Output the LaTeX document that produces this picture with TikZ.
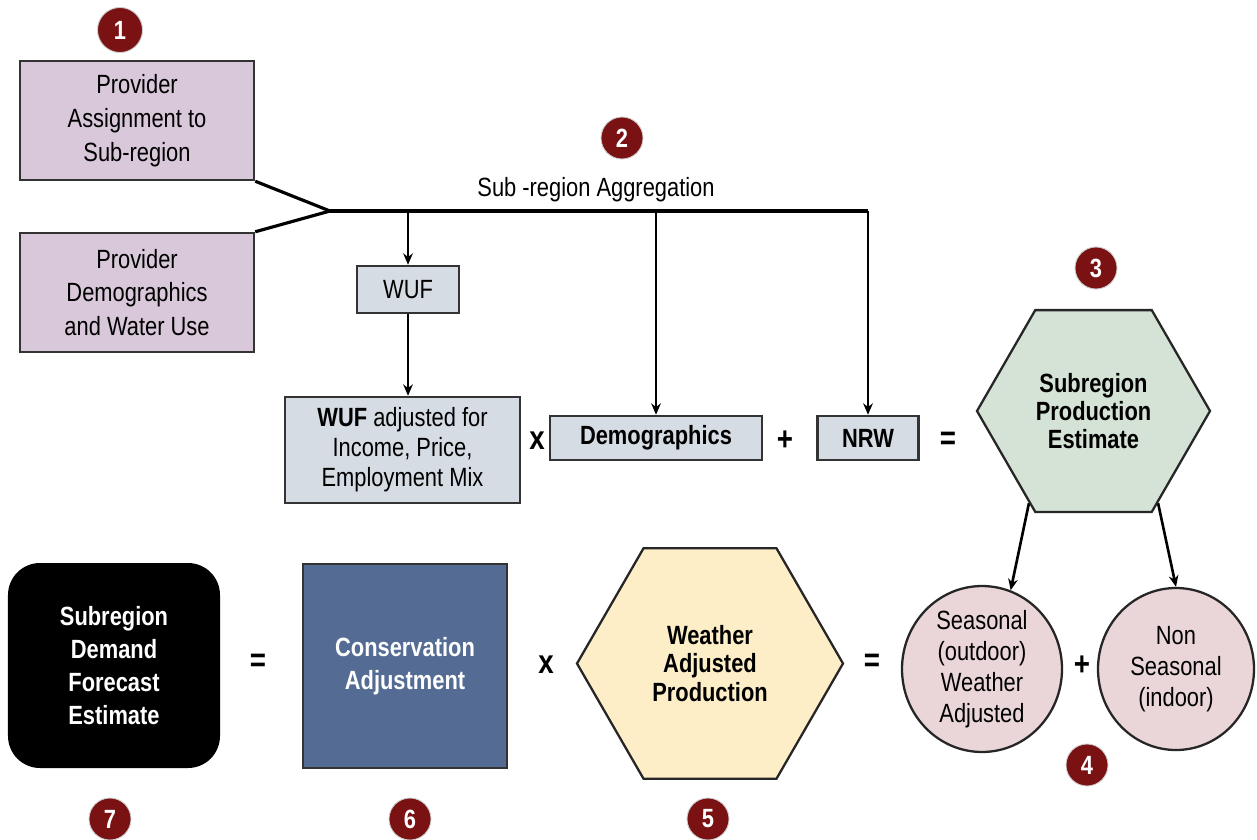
\documentclass[tikz,border=0pt]{standalone}
\usepackage{fontspec}
\setmainfont{Liberation Sans}[FakeStretch=0.83]
\usetikzlibrary{shapes.geometric,arrows.meta}
\pgfdeclarelayer{bg}
\pgfsetlayers{bg,main}
\definecolor{badgered}{RGB}{122,18,20}
\definecolor{lilac}{RGB}{216,200,218}
\definecolor{slate}{RGB}{214,220,228}
\definecolor{sage}{RGB}{212,227,214}
\definecolor{cream}{RGB}{253,238,200}
\definecolor{blush}{RGB}{234,214,216}
\definecolor{steel}{RGB}{84,108,148}
\tikzset{
  badge/.style={circle, fill=badgered, draw=black!20, line width=0.5pt, text=white,
    font=\bfseries\fontsize{15}{15}\selectfont, minimum size=0.84cm, inner sep=0pt},
  inbox/.style={draw=black!80, line width=1.4pt, fill=lilac, align=center,
    minimum width=4.68cm, minimum height=2.38cm, font=\fontsize{15}{19.3}\selectfont},
  calcbox/.style={draw=black!80, line width=1.4pt, fill=slate, align=center, inner sep=0pt,
    font=\fontsize{15}{17.1}\selectfont},
  hexa/.style={regular polygon, regular polygon sides=6, draw=black!85, line width=1.3pt,
    align=center, inner sep=0pt, font=\bfseries\fontsize{15}{16}\selectfont},
  part/.style={ellipse, draw=black!85, line width=1.3pt, fill=blush, align=center,
    inner sep=0pt, minimum width=3.2cm, minimum height=3.24cm, font=\fontsize{15}{17.6}\selectfont},
  op/.style={font=\bfseries\fontsize{19}{19}\selectfont, inner sep=0pt},
  wire/.style={line width=1.8pt},
  arr/.style={line width=1.5pt, -{Stealth[length=6.5pt,width=5.5pt]}}
}

\begin{document}
\begin{tikzpicture}
        \useasboundingbox (0cm, 0cm) rectangle (25.140000cm, -16.800000cm);
        % inputs and aggregation
        \node (assign) [inbox] at (2.740000cm, -2.410000cm) {Provider\\Assignment to\\Sub-region};
        \node (provdem) [inbox] at (2.740000cm, -5.850000cm) {Provider\\Demographics\\and Water Use};
        \coordinate (join) at (6.600000cm, -4.220000cm);
        \coordinate (k1) at (8.160000cm, -4.220000cm);
        \coordinate (k2) at (13.120000cm, -4.220000cm);
        \coordinate (k3) at (17.360000cm, -4.220000cm);
        \node (agg) at (11.920000cm, -3.800000cm) {\fontsize{15}{16}\selectfont Sub -region Aggregation};
        % production estimate
        \node (wuf) [calcbox, minimum width=2.04cm, minimum height=0.94cm] at (8.160000cm, -5.790000cm) {WUF};
        \node (wufadj) [calcbox, minimum width=4.70cm, minimum height=2.12cm] at (8.050000cm, -9.000000cm) {\textbf{WUF} adjusted for\\Income, Price,\\Employment Mix};
        \node (times1) [op] at (10.740000cm, -8.820000cm) {x};
        \node (demog) [calcbox, minimum width=4.24cm, minimum height=0.88cm, font=\bfseries\fontsize{15}{16}\selectfont] at (13.120000cm, -8.760000cm) {Demographics};
        \node (plus1) [op] at (15.700000cm, -8.820000cm) {+};
        \node (nrw) [calcbox, minimum width=2.02cm, minimum height=0.88cm, font=\bfseries\fontsize{15}{16}\selectfont] at (17.360000cm, -8.760000cm) {NRW};
        \node (eq1) [op] at (18.960000cm, -8.820000cm) {=};
        \node (prod) [hexa, fill=sage, minimum size=4.66cm] at (21.870000cm, -8.220000cm) {Subregion\\Production\\Estimate};
        % seasonal split
        \node (seas) [part] at (19.640000cm, -13.380000cm) {Seasonal\\(outdoor)\\Weather\\Adjusted};
        \node (plus2) [op] at (21.640000cm, -13.320000cm) {+};
        \node (nonseas) [part, minimum width=3.12cm] at (23.520000cm, -13.380000cm) {Non\\Seasonal\\(indoor)};
        % demand forecast
        \node (demand) [rounded corners=0.64cm, fill=black, text=white, align=center, minimum width=4.24cm, minimum height=4.10cm, font=\bfseries\fontsize{15}{18.8}\selectfont] at (2.280000cm, -13.310000cm) {Subregion\\Demand\\Forecast\\Estimate};
        \node (eq2) [op] at (5.160000cm, -13.260000cm) {=};
        \node (cons) [draw=black!80, line width=1.3pt, fill=steel, text=white, align=center, minimum width=4.08cm, minimum height=4.08cm, font=\bfseries\fontsize{15}{18.8}\selectfont] at (8.100000cm, -13.320000cm) {Conservation\\Adjustment};
        \node (times2) [op] at (10.920000cm, -13.300000cm) {x};
        \node (weather) [hexa, fill=cream, minimum size=5.32cm] at (14.200000cm, -13.270000cm) {Weather\\Adjusted\\Production};
        \node (eq3) [op] at (17.440000cm, -13.260000cm) {=};
        % step numbers
        \node (b1) [badge, minimum size=0.9cm] at (2.400000cm, -0.600000cm) {1};
        \node (b2) [badge] at (12.440000cm, -2.760000cm) {2};
        \node (b3) [badge] at (21.920000cm, -5.360000cm) {3};
        \node (b4) [badge] at (21.740000cm, -15.300000cm) {4};
        \node (b5) [badge] at (14.160000cm, -16.380000cm) {5};
        \node (b6) [badge] at (8.200000cm, -16.380000cm) {6};
        \node (b7) [badge] at (2.200000cm, -16.380000cm) {7};
        \begin{pgfonlayer}{bg}
                \draw (assign.south east) edge [wire] (join);
                \draw (provdem.north east) edge [wire] (join);
                \draw (join) edge [wire] (k3);
                \draw (k1) edge [arr] (wuf);
                \draw (k2) edge [arr] (demog);
                \draw (k3) edge [arr] (nrw);
                \draw (wuf) edge [arr] (wuf |- wufadj.north);
                \draw (prod.235) edge [arr] (seas.70);
                \draw (prod.-55) edge [arr] (nonseas.90);
        \end{pgfonlayer}
\end{tikzpicture}
\end{document}
